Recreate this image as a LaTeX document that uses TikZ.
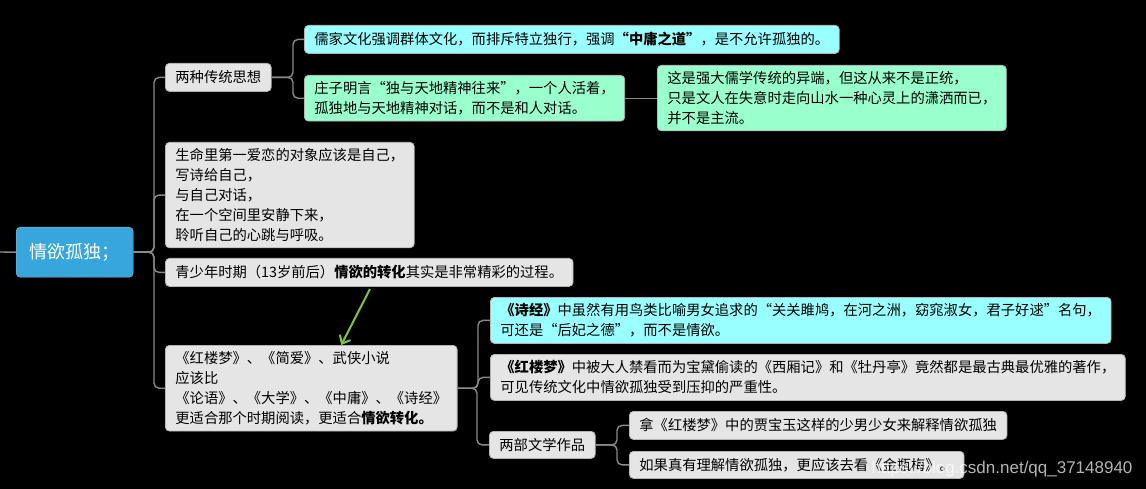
\documentclass[tikz,border=0pt]{standalone}
\usepackage{fontspec}
\setmainfont{Noto Sans CJK SC}
\newfontfamily\wmfont{Liberation Sans}
\usepackage{tikz}
\usetikzlibrary{arrows.meta}

\definecolor{rootblue}{HTML}{36A6DD}
\definecolor{boxgrey}{HTML}{E5E5E5}
\definecolor{boxcyan}{HTML}{99FFFF}
\definecolor{boxmint}{HTML}{99FFCC}
\definecolor{boxline}{HTML}{B4B4B4}
\definecolor{linkgrey}{HTML}{8A8A8A}
\definecolor{markgreen}{HTML}{7DC63A}

\tikzset{
  topic/.style={draw=boxline, line width=0.8pt, rounded corners=4pt,
    inner xsep=10pt, inner ysep=6pt, anchor=north west, align=left,
    text=black, font=\fontsize{14.3}{20}\selectfont},
  greybox/.style={topic, fill=boxgrey},
  cyanbox/.style={topic, fill=boxcyan},
  mintbox/.style={topic, fill=boxmint},
  link/.style={draw=linkgrey, line width=1.4pt, rounded corners=5pt},
}

\begin{document}
\begin{tikzpicture}[x=1pt,y=-1pt]
  \fill[black] (0,0) rectangle (1146,489);
  \useasboundingbox (0,0) rectangle (1146,489);

  % root
  \node[draw=boxline, fill=rootblue, rounded corners=4pt, anchor=north west,
    minimum width=117pt, minimum height=50pt, text=white,
    font=\fontsize{18}{22}\selectfont] (qingyu) at (16,227) {情欲孤独；};
  \coordinate (parent) at (0,252);
  \draw[link] (parent) -- (qingyu.west);

  % first level
  \node[greybox, minimum height=28pt] (sixiang) at (165,63) {两种传统思想};
  \node[greybox, minimum height=105pt] (ziji) at (165,142)
    {生命里第一爱恋的对象应该是自己，\\写诗给自己，\\与自己对话，\\在一个空间里安静下来，\\聆听自己的心跳与呼吸。};
  \node[greybox, minimum height=28pt] (qingshao) at (165,258)
    {青少年时期（13岁前后）\textbf{情欲的转化}其实是非常精彩的过程。};
  \node[greybox, minimum height=85pt] (shuji) at (165,345)
    {《红楼梦》、《简爱》、武侠小说\\应该比\\《论语》、《大学》、《中庸》、《诗经》\\更适合那个时期阅读，更适合\textbf{情欲转化。}};

  % second level
  \node[cyanbox, minimum height=28pt] (rujia) at (304,25)
    {儒家文化强调群体文化，而排斥特立独行，强调\textbf{“中庸之道”}，是不允许孤独的。};
  \node[mintbox, minimum height=45pt] (zhuangzi) at (304,75)
    {庄子明言“独与天地精神往来”，一个人活着，\\孤独地与天地精神对话，而不是和人对话。};
  \node[mintbox, minimum height=65pt] (yiduan) at (657,65)
    {这是强大儒学传统的异端，但这从来不是正统，\\只是文人在失意时走向山水一种心灵上的潇洒而已，\\并不是主流。};

  \node[cyanbox, minimum height=46pt] (shijing) at (490,297)
    {\textbf{《诗经》}中虽然有用鸟类比喻男女追求的“关关雎鸠，在河之洲，窈窕淑女，君子好逑”名句，\\可还是“后妃之德”，而不是情欲。};
  \node[greybox, minimum height=46pt] (hongloumeng) at (490,354)
    {\textbf{《红楼梦》}中被大人禁看而为宝黛偷读的《西厢记》和《牡丹亭》竟然都是最古典最优雅的著作，\\可见传统文化中情欲孤独受到压抑的严重性。};
  \node[greybox, minimum height=27pt] (liangbu) at (489,431) {两部文学作品};

  \node[greybox, minimum height=28pt] (nabao) at (629,411)
    {拿《红楼梦》中的贾宝玉这样的少男少女来解释情欲孤独};
  \node[greybox, minimum height=27pt] (jinping) at (629,451)
    {如果真有理解情欲孤独，更应该去看《金瓶梅》。};

  % connectors
  \foreach \c in {sixiang,ziji,qingshao,shuji}
    \draw[link] (qingyu.east) -| ([xshift=-11pt]\c.west) -- (\c.west);
  \foreach \c in {rujia,zhuangzi}
    \draw[link] (sixiang.east) -| ([xshift=-11pt]\c.west) -- (\c.west);
  \draw[link] (zhuangzi.east) -- (zhuangzi.east -| yiduan.west);
  \foreach \c in {shijing,hongloumeng,liangbu}
    \draw[link] (shuji.east) -| ([xshift=-12pt]\c.west) -- (\c.west);
  \foreach \c in {nabao,jinping}
    \draw[link] (liangbu.east) -| ([xshift=-12pt]\c.west) -- (\c.west);

  % green mark
  \coordinate (marktail) at (370,289);
  \draw[markgreen, line width=2pt, -{Straight Barb[length=7pt,width=12pt]}]
    (marktail) -- ([xshift=30pt]shuji.north);

  \node[anchor=east, text=white, text opacity=0.7,
    font=\wmfont\fontsize{17}{20}\selectfont] (wm) at (1136,469)
    {https://blog.csdn.net/qq\_37148940};
\end{tikzpicture}
\end{document}
